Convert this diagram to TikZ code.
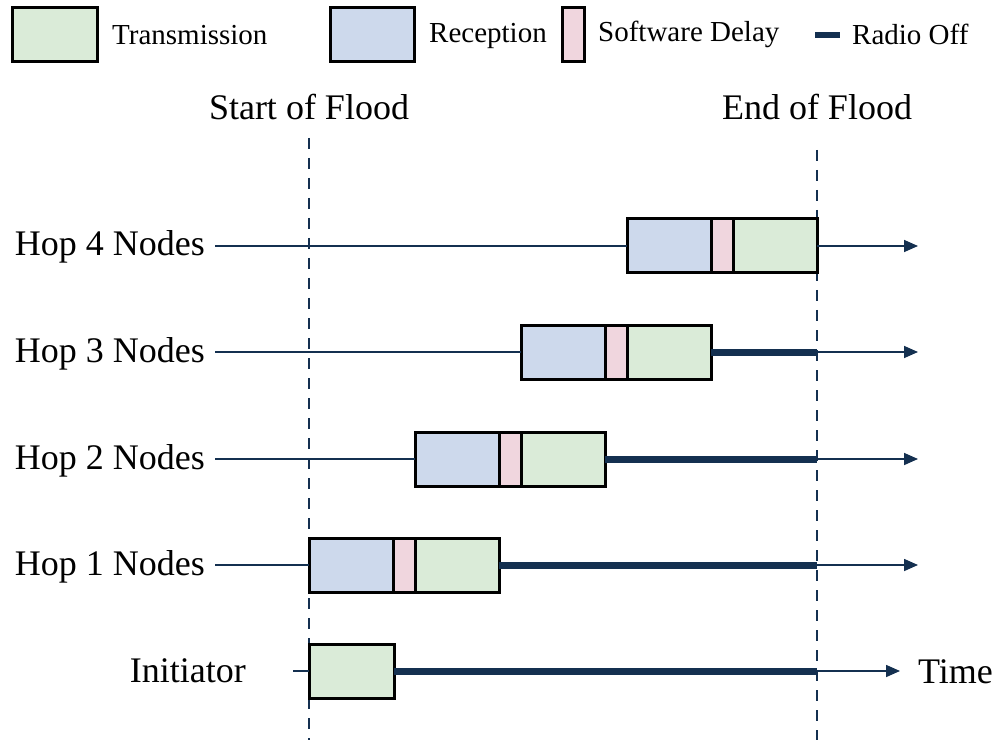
\documentclass[tikz,border=0pt]{standalone}
\usepackage{fontspec}
\setmainfont{Liberation Serif}
\usetikzlibrary{arrows.meta}
\definecolor{txgreen}{RGB}{218,235,216}
\definecolor{rxblue}{RGB}{205,217,236}
\definecolor{swpink}{RGB}{240,214,222}
\definecolor{navy}{RGB}{20,48,80}
\begin{document}
\begin{tikzpicture}[x=1pt,y=1pt,
  seg/.style={draw=black, line width=3pt, minimum height=54pt, inner sep=0pt, outer sep=0pt, anchor=west},
  rxbox/.style={seg, fill=rxblue, minimum width=84pt},
  swbox/.style={seg, fill=swpink, minimum width=22pt},
  txbox/.style={seg, fill=txgreen, minimum width=84pt},
  idle/.style={draw=navy, line width=1.6pt},
  timeline/.style={idle, -{Triangle[length=14pt,width=12pt]}},
  radiooff/.style={draw=navy, line width=7pt},
  flood/.style={draw=navy, line width=1.8pt, dash pattern=on 11pt off 9pt},
  bigtext/.style={font=\fontsize{36}{40}\selectfont, inner sep=0pt},
  hoplabel/.style={bigtext, anchor=base east},
  legendtext/.style={font=\fontsize{29}{32}\selectfont, anchor=base west, inner sep=0pt},
]
\useasboundingbox (0,0) rectangle (995,740);

% flood boundaries
\node[bigtext, anchor=base] (start) at (309,620) {Start of Flood};
\node[bigtext, anchor=base] (end) at (817,620) {End of Flood};
\coordinate (starttop) at (309,602);
\coordinate (startbot) at (309,0);
\coordinate (endtop) at (817,590);
\coordinate (endbot) at (817,0);
\draw[flood] (starttop) -- (startbot);
\draw[flood] (endtop) -- (endbot);

% hop rows: reception, software delay, transmission, then radio off
\foreach \k/\x/\y in {4/627/494, 3/521/388, 2/415/281, 1/309/175}{
  \node[rxbox] (rx\k) at (\x,\y) {};
  \node[swbox] (sw\k) at (rx\k.east) {};
  \node[txbox] (tx\k) at (sw\k.east) {};
  \node[hoplabel] (lab\k) at (205,\y-10) {Hop \k\ Nodes};
  \coordinate (off\k) at (817,\y);
  \coordinate (tip\k) at (918,\y);
  \draw[idle] ([xshift=10pt]lab\k.east |- rx\k.west) -- (rx\k.west);
  \draw[radiooff] (tx\k.east) -- (off\k);
  \draw[timeline] (off\k) -- (tip\k);
}

% initiator row
\node[txbox, minimum width=85pt] (txi) at (309,69) {};
\node[hoplabel] (labi) at (246,58) {Initiator};
\coordinate (idlei) at (293,69);
\coordinate (offi) at (817,69);
\draw[idle] (idlei) -- (txi.west);
\draw[radiooff] (txi.east) -- (offi);
\node[bigtext, anchor=base west] (time) at (918,57) {Time};
\draw[timeline] (offi) -- ([xshift=-18pt]time.west |- offi);

% legend
\node[txbox, anchor=center, minimum width=85pt] (legtx) at (54.5,705) {};
\node[legendtext] (legtxt) at (112,695) {Transmission};
\node[rxbox, anchor=center] (legrx) at (372,705) {};
\node[legendtext] (legrxt) at (429,697) {Reception};
\node[swbox, anchor=center] (legsw) at (573,705) {};
\node[legendtext] (legswt) at (598,698) {Software Delay};
\coordinate (legoffa) at (815,705);
\coordinate (legoffb) at (840,705);
\draw[radiooff, line width=6pt] (legoffa) -- (legoffb);
\node[legendtext] (legofft) at (852,695) {Radio Off};
\end{tikzpicture}
\end{document}
